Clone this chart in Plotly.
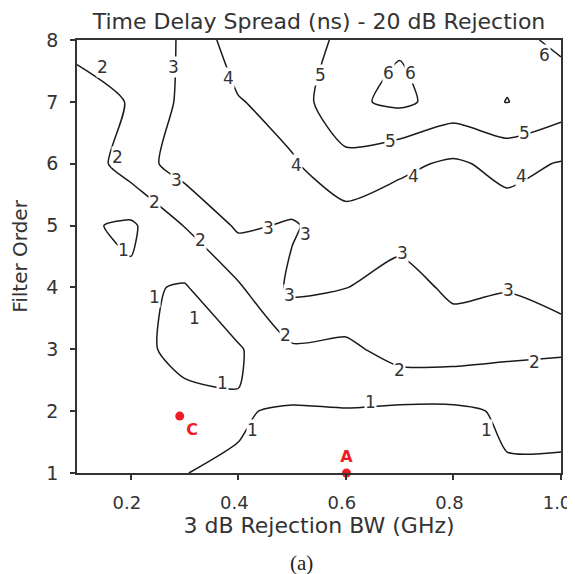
import plotly.graph_objects as go

# 3 dB rejection bandwidth (GHz) and filter order grid
bw_ghz = [0.1, 0.2, 0.3, 0.4, 0.5, 0.6, 0.7, 0.8, 0.9, 1.0]
filter_order = [1, 2, 3, 4, 5, 6, 7, 8]

# time delay spread (ns), one row per filter order (estimated from the contour picture)
spread_order1 = [1.30, 1.20, 1.005, 0.943, 0.70, 0.70, 0.60, 0.70, 0.942, 0.742]
spread_order2 = [1.40, 1.40, 1.338, 1.057, 0.904, 0.961, 0.83, 0.83, 1.113, 1.50]
spread_order3 = [1.45, 1.30, 0.70, 0.903, 1.867, 1.745, 2.45, 2.45, 2.22, 2.075]
spread_order4 = [1.35, 1.15, 0.922, 1.872, 3.20, 3.02, 2.60, 3.20, 3.07, 3.70]
spread_order5 = [1.15, 0.85, 2.033, 3.154, 2.90, 3.55, 3.40, 3.50, 3.55, 3.80]
spread_order6 = [1.30, 2.50, 3.45, 3.60, 3.90, 4.70, 4.20, 3.85, 4.29, 3.937]
spread_order7 = [1.70, 2.04, 3.24, 3.93, 4.45, 5.81, 6.20, 5.60, 6.02, 5.524]
spread_order8 = [2.20, 2.475, 3.10, 4.60, 4.55, 5.20, 5.90, 5.70, 5.73, 6.18]

# contour levels (ns)
levels = [1, 2, 3, 4, 5, 6]

# marked design points
point_names = ["C", "A"]
point_bw = [0.291, 0.601]
point_order = [1.92, 1.0]

x_ticks = [0.2, 0.4, 0.6, 0.8, 1.0]
x_ticktext = ["0.2", "0.4", "0.6", "0.8", "1.0"]
y_ticks = [1, 2, 3, 4, 5, 6, 7, 8]

z = [spread_order1, spread_order2, spread_order3, spread_order4,
     spread_order5, spread_order6, spread_order7, spread_order8]

TXT = "#333333"
FONT = "DejaVu Sans"

fig = go.Figure()
fig.add_trace(go.Contour(
    x=bw_ghz, y=filter_order, z=z,
    contours=dict(start=levels[0], end=levels[-1], size=1, coloring="none",
                  showlabels=False),
    line=dict(color="#1a1a1a", width=1.5, smoothing=0.6),
    showscale=False, hoverinfo="skip",
))
fig.add_trace(go.Scatter(
    x=point_bw, y=point_order, mode="markers+text",
    text=point_names, textposition=["bottom right", "top center"],
    textfont=dict(family=FONT, size=16, color="#ee1c25", weight="bold"),
    marker=dict(color="#ee1c25", size=9),
    cliponaxis=False, showlegend=False, hoverinfo="skip",
))

# in-line contour labels, placed where the original figure shows them
label_spots = [
    (0.148, 7.56, 1), (0.176, 6.11, 1), (0.245, 5.38, 1), (0.329, 4.77, 1),
    (0.487, 3.23, 1), (0.700, 2.67, 1), (0.951, 2.80, 1),
    (0.186, 4.60, 0), (0.245, 3.85, 0), (0.319, 3.51, 0), (0.371, 2.45, 0),
    (0.427, 1.70, 0), (0.645, 2.14, 0), (0.862, 1.70, 0),
    (0.279, 7.57, 2), (0.285, 5.74, 2), (0.456, 4.96, 2), (0.524, 4.87, 2),
    (0.496, 3.88, 2), (0.706, 4.55, 2), (0.902, 3.96, 2),
    (0.381, 7.38, 3), (0.509, 5.98, 3), (0.726, 5.80, 3), (0.926, 5.80, 3),
    (0.552, 7.43, 4), (0.683, 6.37, 4), (0.933, 6.49, 4),
    (0.680, 7.46, 5), (0.720, 7.46, 5), (0.970, 7.75, 5),
]
annotations = [
    dict(x=lx, y=ly, xref="x", yref="y", text=str(levels[li]), showarrow=False,
         xanchor="center", yanchor="middle", bgcolor="white", borderpad=0,
         font=dict(family=FONT, size=17, color=TXT))
    for lx, ly, li in label_spots
]

# page body has an 8 px margin: figure is sized/offset to land on the same pixels
W, H = 567, 566
annotations.append(dict(text="(a)", x=(293 - 69) / 484, xref="paper",
                        y=(465 - 555) / 433, yref="paper",
                        xanchor="center", yanchor="middle", showarrow=False,
                        font=dict(family="Liberation Serif", size=21, color="#222222")))

fig.update_layout(
    width=W, height=H,
    margin=dict(l=69, r=14, t=32, b=101, autoexpand=False),
    paper_bgcolor="white", plot_bgcolor="white",
    showlegend=False,
    font=dict(family=FONT, color=TXT),
    title=dict(text="Time Delay Spread (ns) - 20 dB Rejection",
               x=0.5, xref="paper", xanchor="center",
               y=1 - 13.5 / H, yref="container", yanchor="middle",
               font=dict(family=FONT, size=22, color=TXT)),
    annotations=annotations,
)
fig.update_xaxes(
    range=[0.1, 1.0], tickvals=x_ticks, ticktext=x_ticktext, automargin=False,
    ticks="outside", ticklen=5, tickcolor=TXT, tickwidth=1.5,
    showline=True, linecolor=TXT, linewidth=1.5, mirror=True,
    showgrid=False, zeroline=False, ticklabeloverflow="allow",
    tickfont=dict(family=FONT, size=18, color=TXT), ticklabelstandoff=8,
    ticklabelshift=-4,
    title=dict(text="3 dB Rejection BW (GHz)", standoff=5,
               font=dict(family=FONT, size=22, color=TXT)),
)
fig.update_yaxes(
    range=[1, 8], tickvals=y_ticks, automargin=False,
    ticks="outside", ticklen=5, tickcolor=TXT, tickwidth=1.5,
    showline=True, linecolor=TXT, linewidth=1.5, mirror=True,
    showgrid=False, zeroline=False,
    tickfont=dict(family=FONT, size=19, color=TXT), ticklabelstandoff=8,
    title=dict(text="Filter Order", standoff=13,
               font=dict(family=FONT, size=20, color=TXT)),
)

fig.write_html("out.html")
